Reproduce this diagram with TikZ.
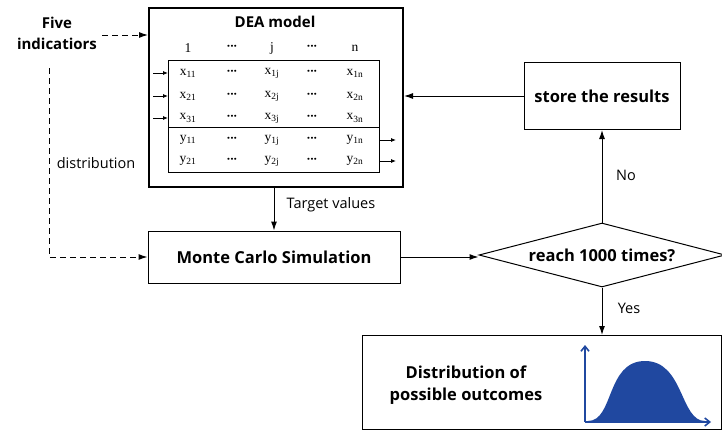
\documentclass[tikz,border=0pt]{standalone}
\usepackage{fontspec}
\setmainfont{Open Sans}
\newfontfamily\tabfont{Liberation Serif}
\usetikzlibrary{arrows.meta,positioning,shapes.geometric}
\definecolor{curveblue}{RGB}{32,72,160}

\tikzset{
  box/.style={draw,line width=1pt,align=center,font=\fontsize{16.5}{20}\selectfont\bfseries},
  lbl/.style={font=\fontsize{14.5}{17}\selectfont},
  cell/.style={font=\tabfont\fontsize{13.5}{15}\selectfont,inner sep=0pt},
  dots/.style={font=\fontsize{12}{12}\selectfont\bfseries,inner sep=0pt},
  arr/.style={black,line width=1pt,-{Latex[length=9pt,width=6pt]}},
  darr/.style={black,line width=1pt,dash pattern=on 6pt off 4pt,-{Latex[length=9pt,width=6pt]}},
  sarr/.style={black,line width=0.8pt,-{Latex[length=5pt,width=4pt]}}
}

\begin{document}
\begin{tikzpicture}[x=1pt,y=-1pt]
\useasboundingbox (0,0) rectangle (722,431);
% ==========================================
% DEA model with its table of inputs/outputs
\node (dea) [draw,line width=2pt,minimum width=254,minimum height=179,anchor=north west] at (148,7) {};
\node (title) at (275,22) [font=\fontsize{15}{17}\selectfont\bfseries] {DEA model};
\node (tab) [draw,line width=0.8pt,minimum width=211,minimum height=112,anchor=north west] at (168,60) {};
\coordinate (splitL) at (168,127);
\coordinate (splitR) at (379,127);
\draw[line width=0.8pt] (splitL) -- (splitR);
%
\node (h1) at (188,48) [cell] {1};
\node (h2) at (232,48) [dots] {···};
\node (h3) at (272,48) [cell] {j};
\node (h4) at (312,48) [dots] {···};
\node (h5) at (355,48) [cell] {n};
%
\foreach \v/\i/\yy in {x/1/73,x/2/96,x/3/118,y/1/140,y/2/161}{
  \node (c\v\i a) at (188,\yy) [cell] {\v\textsubscript{\i1}};
  \node (c\v\i b) at (232,\yy) [dots] {···};
  \node (c\v\i c) at (272,\yy) [cell] {\v\textsubscript{\i j}};
  \node (c\v\i d) at (312,\yy) [dots] {···};
  \node (c\v\i e) at (355,\yy) [cell] {\v\textsubscript{\i n}};
}
% inputs come in, outputs go out
\foreach \yy [count=\k] in {73,96,118}{
  \coordinate (in\k) at (153,\yy);
  \draw[sarr] (in\k) -- (in\k -| tab.west);
}
\foreach \yy [count=\k] in {140,161}{
  \coordinate (out\k) at (396,\yy);
  \draw[sarr] (out\k -| tab.east) -- (out\k);
}
% ==========================================
\node (five) at (57,33) [align=center,font=\fontsize{15}{21}\selectfont\bfseries] {Five\\indicatiors};
\draw[darr] (102,35) coordinate (fiveR) -- (fiveR -| dea.west);
%
\node (mc) [box,minimum width=252,minimum height=52] at (274,257) {Monte Carlo Simulation};
\draw[arr] (dea.south -| mc.north) -- (mc.north);
\node (tv) at (331,205) [lbl] {Target values};
%
\coordinate (dtop) at (49,68);
\draw[darr] (dtop) |- (mc.west);
\node (dist) at (96,163) [lbl] {distribution};
% ==========================================
\node (rep) [draw,line width=1pt,diamond,aspect=3.9,inner sep=2pt,minimum width=246,minimum height=64,font=\fontsize{16.5}{20}\selectfont\bfseries] at (602,255) {reach 1000 times?};
\draw[arr] (mc.east) -- (mc.east -| rep.west);
%
\node (store) [box,minimum width=156,minimum height=67] at (602,96) {store the results};
\draw[arr] (rep.north) -- (rep.north |- store.south);
\node (no) at (626,175) [lbl] {No};
\draw[arr] (store.west) -- (store.west -| dea.east);
%
\node (out) [draw,line width=1pt,minimum width=359,minimum height=94,anchor=north west] at (362,335) {};
\node (outtxt) at (466,385) [align=center,font=\fontsize{16.5}{22}\selectfont\bfseries] {Distribution of\\possible outcomes};
\draw[arr] (rep.south) -- (rep.south |- out.north);
\node (yes) at (629,308) [lbl] {Yes};
% small plot of the outcome distribution
\coordinate (o) at (585,422);
\fill[curveblue] (588,421) .. controls (614,421) and (606,361) .. (645,361)
  .. controls (684,361) and (680,421) .. (705,421) -- cycle;
\draw[curveblue,line width=1.6pt,-{Straight Barb[length=5pt,width=8pt]}] (o) -- ++(0,-77);
\draw[curveblue,line width=1.6pt,-{Straight Barb[length=5pt,width=8pt]}] (o) -- ++(126,0);
% =============================================
\end{tikzpicture}
\end{document}
